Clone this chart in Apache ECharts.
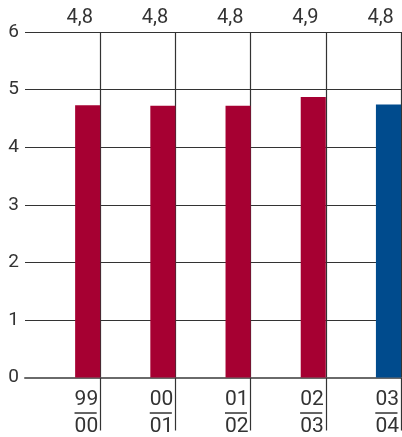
<!DOCTYPE html>
<html>
<head>
<meta charset="utf-8">
<script src="https://cdn.jsdelivr.net/npm/echarts@6/dist/echarts.min.js"></script>
<style>html,body{margin:0;padding:0;background:#fff}#c{width:402px;height:437px}</style>
</head>
<body>
<div id="c"></div>
<script>
const yearFrom = ['99', '00', '01', '02', '03'];
const yearTo = ['00', '01', '02', '03', '04'];
const values = [4.73, 4.72, 4.72, 4.87, 4.74];
const topLabels = ['4,8', '4,8', '4,8', '4,9', '4,8'];
const barColors = ['#A60032', '#A60032', '#A60032', '#A60032', '#004B8D'];
const yTicks = [0, 1, 2, 3, 4, 5, 6];

const FONT = 'Roboto';
const chart = echarts.init(document.getElementById('c'), null, { renderer: 'canvas' });
const bottomCats = yearFrom.map((f, i) => f + '|' + yearTo[i]);

chart.setOption({
  animation: false,
  grid: { left: 25, right: 1, top: 32, bottom: 58, containLabel: false },
  xAxis: [
    {
      type: 'category',
      data: bottomCats,
      position: 'bottom',
      boundaryGap: true,
      axisLine: { show: true, lineStyle: { color: '#6a6a6a', width: 2 } },
      axisTick: { show: true, interval: (i) => i !== 0, length: 53, inside: false, lineStyle: { color: '#333', width: 1.2 } },
      splitLine: { show: true, interval: (i) => i !== 0, lineStyle: { color: '#333', width: 1.2 } },
      axisLabel: {
        interval: 0,
        margin: 11,
        align: 'left',
        padding: [0, 0, 0, 12],
        formatter: (v) => { const p = v.split('|'); return '{n|' + p[0] + '}\n{hr|}\n{n|' + p[1] + '}'; },
        rich: {
          n: { fontFamily: FONT, fontSize: 21, color: '#333', lineHeight: 22, align: 'left' },
          hr: { width: 22, height: 0, lineHeight: 5, borderWidth: 1, borderColor: '#333', align: 'left' }
        }
      }
    },
    {
      type: 'category',
      data: topLabels,
      position: 'top',
      boundaryGap: true,
      axisLine: { show: false },
      axisTick: { show: false },
      splitLine: { show: false },
      axisLabel: {
        interval: 0,
        margin: 4,
        align: 'left',
        padding: [0, 0, 0, 4],
        fontFamily: FONT,
        fontSize: 20,
        color: '#333'
      }
    }
  ],
  yAxis: {
    type: 'value',
    min: yTicks[0],
    max: yTicks[yTicks.length - 1],
    interval: 1,
    axisLine: { show: false },
    axisTick: { show: false },
    splitLine: { show: true, lineStyle: { color: '#333', width: 1.2 } },
    axisLabel: { margin: 6, fontFamily: FONT, fontSize: 19, color: '#333' }
  },
  series: [
    {
      type: 'custom',
      xAxisIndex: 0,
      yAxisIndex: 0,
      data: values.map((v, i) => [i, v]),
      encode: { x: 0, y: 1 },
      renderItem: (params, api) => {
        const idx = api.value(0);
        const base = api.coord([idx, 0]);
        const top = api.coord([idx, api.value(1)]);
        const bandW = api.size([1, 0])[0];
        const right = base[0] + bandW / 2;
        const w = bandW / 3;
        return {
          type: 'rect',
          shape: { x: right - w, y: top[1], width: w, height: base[1] - top[1] },
          style: { fill: barColors[idx] },
          z2: 10
        };
      }
    }
  ]
});
</script>
</body>
</html>
